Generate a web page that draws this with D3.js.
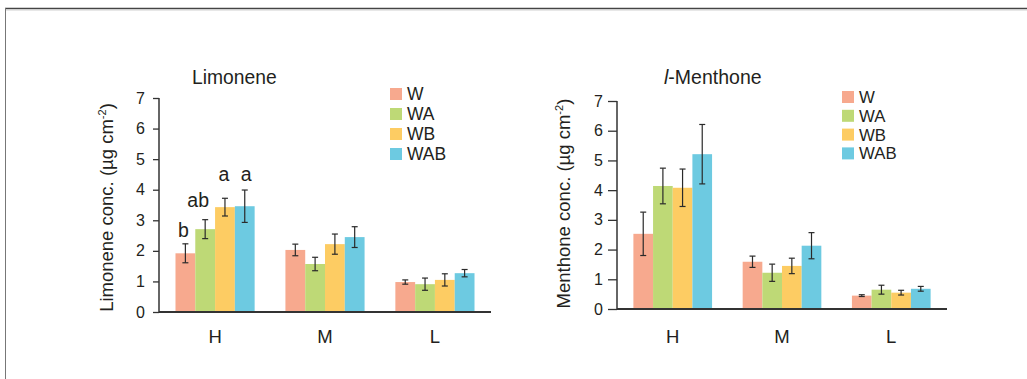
<!DOCTYPE html>
<html>
<head>
<meta charset="utf-8">
<script src="https://cdn.jsdelivr.net/npm/d3@7"></script>
<style>
  html, body { margin: 0; padding: 0; background: #fff; }
  svg { display: block; font-family: "Liberation Sans", Arial, Helvetica, sans-serif; }
</style>
</head>
<body>
<svg id="chart" width="1027" height="379"></svg>
<script>
// Sample groups and treatments
const groups = ["H", "M", "L"];
const series = ["W", "WA", "WB", "WAB"];
const seriesColors = ["#f7a98e", "#bed976", "#fdcc63", "#6dcae1"];
const yTickValues = [0, 1, 2, 3, 4, 5, 6, 7];

// Limonene: mean and error per group (rows) and treatment (columns)
const limoneneMean = [
  [1.92, 2.71, 3.43, 3.46],
  [2.03, 1.57, 2.22, 2.45],
  [0.98, 0.91, 1.05, 1.27]
];
const limoneneErr = [
  [0.31, 0.31, 0.29, 0.53],
  [0.19, 0.22, 0.33, 0.34],
  [0.07, 0.20, 0.20, 0.12]
];
// Significance letters for group H, with the level (in axis units) of each letter's baseline
const limoneneLetters = ["b", "ab", "a", "a"];
const limoneneLetterLevel = [2.46, 3.45, 4.28, 4.28];

// l-Menthone: mean and error
const menthoneMean = [
  [2.53, 4.14, 4.08, 5.21],
  [1.59, 1.22, 1.45, 2.13],
  [0.45, 0.65, 0.55, 0.68]
];
const menthoneErr = [
  [0.73, 0.60, 0.63, 1.00],
  [0.19, 0.29, 0.26, 0.44],
  [0.03, 0.15, 0.08, 0.08]
];

const svg = d3.select("#chart");
const ink = "#231f20";

// Outer frame (top and left edges)
svg.append("line").attr("x1", 5).attr("x2", 1027).attr("y1", 8.5).attr("y2", 8.5)
  .attr("stroke", "#444").attr("stroke-width", 1.6);
svg.append("line").attr("x1", 5).attr("x2", 1027).attr("y1", 10).attr("y2", 10)
  .attr("stroke", "#cfcfcf").attr("stroke-width", 1);
svg.append("line").attr("x1", 5.5).attr("x2", 5.5).attr("y1", 8).attr("y2", 379)
  .attr("stroke", "#777").attr("stroke-width", 1);

function drawPanel(cfg) {
  const g = svg.append("g");
  const x = d3.scaleBand().domain(groups).range([cfg.x0, cfg.x1])
    .paddingInner(0.28).paddingOuter(0.15);
  const xs = d3.scaleBand().domain(series).range([0, x.bandwidth()]);
  const y = d3.scaleLinear().domain([0, 7]).range([cfg.yBottom, cfg.yTop]);
  const color = d3.scaleOrdinal().domain(series).range(seriesColors);

  // Bars
  groups.forEach((grp, gi) => {
    const gg = g.append("g").attr("transform", `translate(${x(grp)},0)`);
    series.forEach((s, si) => {
      const v = cfg.mean[gi][si];
      gg.append("rect")
        .attr("x", xs(s)).attr("width", xs.bandwidth())
        .attr("y", y(v)).attr("height", y(0) - y(v))
        .attr("fill", color(s));
    });
    // Error bars
    series.forEach((s, si) => {
      const v = cfg.mean[gi][si], e = cfg.err[gi][si];
      const cx = xs(s) + xs.bandwidth() / 2;
      const eb = gg.append("g").attr("stroke", "#2a2a2a").attr("stroke-width", 1.2);
      eb.append("line").attr("x1", cx).attr("x2", cx).attr("y1", y(v + e)).attr("y2", y(v - e));
      eb.append("line").attr("x1", cx - 3).attr("x2", cx + 3).attr("y1", y(v + e)).attr("y2", y(v + e));
      eb.append("line").attr("x1", cx - 3).attr("x2", cx + 3).attr("y1", y(v - e)).attr("y2", y(v - e));
    });
  });

  // Significance letters on the first group
  if (cfg.letters) {
    series.forEach((s, si) => {
      g.append("text")
        .attr("x", x(groups[0]) + xs(s) + xs.bandwidth() / 2 + cfg.letterDx[si])
        .attr("y", y(cfg.letterLevel[si]))
        .attr("text-anchor", "middle")
        .attr("font-size", 19.5).attr("fill", ink)
        .text(cfg.letters[si]);
    });
  }

  // Y axis
  const yAxis = g.append("g").attr("transform", `translate(${cfg.x0},0)`)
    .call(d3.axisLeft(y).tickValues(yTickValues).tickFormat(d3.format("d"))
      .tickSize(cfg.tickLen).tickPadding(cfg.tickPad));
  yAxis.select(".domain").attr("stroke", "#333").attr("stroke-width", 1.5)
    .attr("d", `M0,${cfg.yTop}V${cfg.yBottom}`);
  yAxis.selectAll(".tick line").attr("stroke", "#333").attr("stroke-width", 1.3);
  yAxis.selectAll(".tick text").attr("fill", ink).attr("font-size", cfg.tickFont)
    .attr("font-family", "Liberation Sans, Arial, sans-serif");

  // X baseline and category labels
  g.append("line").attr("x1", cfg.x0).attr("x2", cfg.x1)
    .attr("y1", y(0)).attr("y2", y(0))
    .attr("stroke", "#333").attr("stroke-width", 1.8);
  groups.forEach(grp => {
    g.append("text").attr("x", x(grp) + x.bandwidth() / 2).attr("y", cfg.xLabelY)
      .attr("text-anchor", "middle").attr("font-size", cfg.xFont).attr("fill", ink)
      .text(grp);
  });

  // Y axis title
  const yt = g.append("text")
    .attr("transform", `translate(${cfg.yTitleX},${cfg.yTitleMid}) rotate(-90)`)
    .attr("text-anchor", "middle").attr("font-size", cfg.yTitleFont).attr("fill", ink);
  yt.append("tspan").text(cfg.yTitle + " (µg cm");
  yt.append("tspan").attr("font-size", cfg.yTitleFont * 0.6).attr("dy", -7).text("-2");
  yt.append("tspan").attr("dy", 7).text(")");

  // Panel title
  const tt = g.append("text").attr("x", cfg.titleX).attr("y", cfg.titleY)
    .attr("font-size", cfg.titleFont).attr("fill", ink);
  cfg.title.forEach(part => {
    tt.append("tspan").attr("font-style", part.italic ? "italic" : "normal").text(part.t);
  });

  // Legend
  series.forEach((s, si) => {
    const ly = cfg.legendY + si * cfg.legendStep;
    g.append("rect").attr("x", cfg.legendX).attr("y", ly)
      .attr("width", 12).attr("height", 12).attr("fill", color(s));
    g.append("text").attr("x", cfg.legendX + 17).attr("y", ly + 12)
      .attr("font-size", cfg.legendFont).attr("fill", ink).text(s);
  });
}

drawPanel({
  x0: 159, x1: 491, yTop: 98, yBottom: 312,
  mean: limoneneMean, err: limoneneErr,
  letters: limoneneLetters, letterLevel: limoneneLetterLevel, letterDx: [-2, -7, -1, 1.5],
  tickLen: 6, tickPad: 8, tickFont: 16,
  xLabelY: 343, xFont: 18.5,
  yTitle: "Limonene conc.", yTitleX: 112.5, yTitleMid: 207.5, yTitleFont: 18.5,
  title: [{ t: "Limonene" }], titleX: 192, titleY: 84, titleFont: 19.3,
  legendX: 390, legendY: 88, legendStep: 20, legendFont: 17.5
});

drawPanel({
  x0: 617, x1: 947, yTop: 101, yBottom: 309,
  mean: menthoneMean, err: menthoneErr,
  tickLen: 9, tickPad: 5, tickFont: 16,
  xLabelY: 343, xFont: 18.5,
  yTitle: "Menthone conc.", yTitleX: 570, yTitleMid: 203.5, yTitleFont: 18.5,
  title: [{ t: "l", italic: true }, { t: "-Menthone" }], titleX: 664, titleY: 84, titleFont: 19.5,
  legendX: 842, legendY: 91, legendStep: 18.8, legendFont: 16.8
});
</script>
</body>
</html>
